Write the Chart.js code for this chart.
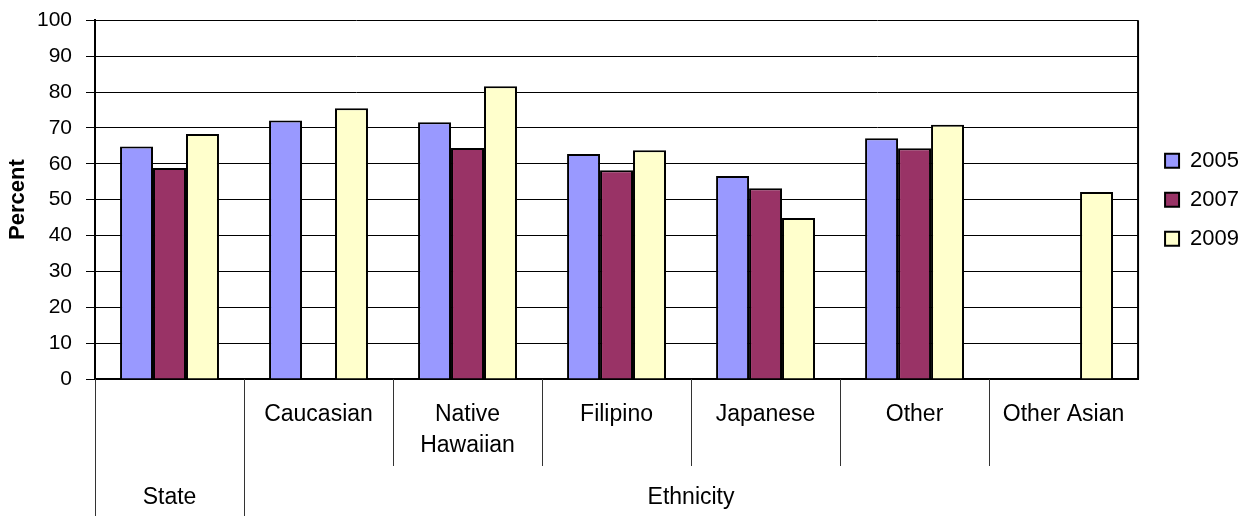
<!DOCTYPE html>
<html>
<head>
<meta charset="utf-8">
<script src="https://cdn.jsdelivr.net/npm/chart.js@4"></script>
<style>
  html, body { margin: 0; padding: 0; background: #fff; }
  #wrap { width: 1246px; height: 516px; }
</style>
</head>
<body>
<div id="wrap"><canvas id="chart"></canvas></div>
<script>
// categories (first level) and groups (second level)
const categories = ['', 'Caucasian', ['Native', 'Hawaiian'], 'Filipino', 'Japanese', 'Other', 'Other Asian'];
const groups = [
  { label: 'State', from: 0, to: 0 },
  { label: 'Ethnicity', from: 1, to: 6 }
];
const seriesNames = ['2005', '2007', '2009'];
const values2005 = [64.8, 72.1, 71.6, 62.7, 56.6, 67.1, null];
const values2007 = [58.8, null, 64.4, 58.2, 53.2, 64.3, null];
const values2009 = [68.3, 75.5, 81.6, 63.8, 44.9, 70.9, 52.1];
const yTicks = [0, 10, 20, 30, 40, 50, 60, 70, 80, 90, 100];

const FONT = 'Liberation Sans, Arial, sans-serif';

// frame, separators and second level of labels under the axis
const groupAxis = {
  id: 'groupAxis',
  afterLayout(chart) {
    // legend sits a little away from the plot, like the original
    const lg = chart.legend;
    const shift = chart.chartArea.right + 10 - lg.left;
    lg.left += shift;
    lg.right += shift;
  },
  afterDraw(chart) {
    const ctx = chart.ctx;
    const area = chart.chartArea;
    const x = chart.scales.x;
    const step = x.getPixelForValue(1) - x.getPixelForValue(0);
    const edge = i => x.getPixelForValue(i) - step / 2;
    const groupStarts = groups.map(g => g.from);
    ctx.save();
    // right frame line
    ctx.strokeStyle = '#000';
    ctx.lineWidth = 2;
    ctx.beginPath();
    ctx.moveTo(area.right, area.top);
    ctx.lineTo(area.right, area.bottom);
    ctx.stroke();
    // separators below the axis
    ctx.lineWidth = 1;
    ctx.strokeStyle = '#333';
    for (let i = 0; i < categories.length; i++) {
      const px = Math.round(edge(i)) + 0.5;
      const full = groupStarts.includes(i);
      ctx.beginPath();
      ctx.moveTo(px, area.bottom);
      ctx.lineTo(px, full ? chart.height : area.bottom + 87);
      ctx.stroke();
    }
    // group labels
    ctx.fillStyle = '#000';
    ctx.font = '23px ' + FONT;
    ctx.textAlign = 'center';
    ctx.textBaseline = 'middle';
    groups.forEach(g => {
      const cx = (edge(g.from) + edge(g.to + 1)) / 2;
      ctx.fillText(g.label, cx, 498);
    });
    ctx.restore();
  }
};

const ctx = document.getElementById('chart').getContext('2d');
const chart = new Chart(ctx, {
  type: 'bar',
  data: {
    labels: categories,
    datasets: [
      { label: seriesNames[0], data: values2005, backgroundColor: '#9999FF', borderColor: '#000', borderWidth: 2 },
      { label: seriesNames[1], data: values2007, backgroundColor: '#993366', borderColor: '#000', borderWidth: 2 },
      { label: seriesNames[2], data: values2009, backgroundColor: '#FFFFCC', borderColor: '#000', borderWidth: 2 }
    ]
  },
  options: {
    responsive: true,
    maintainAspectRatio: false,
    animation: false,
    events: [],
    layout: { padding: { top: 7, right: 7, left: 0, bottom: 0 } },
    datasets: {
      bar: { categoryPercentage: 0.664, barPercentage: 1.0 }
    },
    scales: {
      x: {
        grid: { display: false, drawTicks: false },
        border: { display: true, color: '#000', width: 2 },
        ticks: {
          color: '#000',
          font: { family: FONT, size: 23, lineHeight: 1.35 },
          padding: 20,
          maxRotation: 0,
          autoSkip: false
        },
        afterFit(scale) { scale.height = 137; }
      },
      y: {
        min: 0,
        max: 100,
        afterBuildTicks(scale) { scale.ticks = yTicks.map(v => ({ value: v })); },
        grid: { color: '#000', lineWidth: 1, tickLength: 9, drawTicks: true },
        border: { display: true, color: '#000', width: 2 },
        ticks: {
          color: '#000',
          font: { family: FONT, size: 21, lineHeight: 0.6 },
          padding: 14
        },
        title: {
          display: true,
          text: 'Percent',
          color: '#000',
          font: { family: FONT, size: 22, weight: 'bold' },
          padding: { top: 5, bottom: 4 }
        },
        afterFit(scale) { scale.width = 95; }
      }
    },
    plugins: {
      legend: {
        position: 'right',
        fullSize: false,
        labels: {
          color: '#000',
          font: { family: FONT, size: 22 },
          boxWidth: 14,
          boxHeight: 14,
          padding: 17
        }
      },
      tooltip: { enabled: false },
      title: { display: false }
    }
  },
  plugins: [groupAxis]
});
</script>
</body>
</html>
